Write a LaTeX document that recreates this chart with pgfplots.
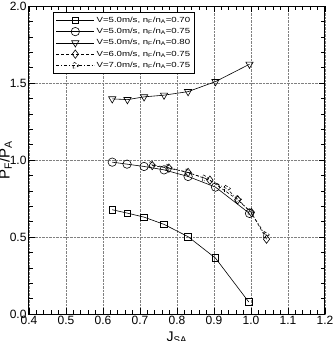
\documentclass[border=0pt]{standalone}
\usepackage{fontspec}
\setmainfont{Liberation Sans}
\newfontfamily\legfont[FakeStretch=1.3]{Liberation Sans}
\usepackage{pgfplots}
\pgfplotsset{compat=1.18}
\begin{document}
\begin{tikzpicture}[x=1pt,y=1pt]
\begin{axis}[
  at={(0,0)}, anchor=origin,
  scale only axis, width=296pt, height=308pt,
  xmin=0.4, xmax=1.2, ymin=0, ymax=2.0,
  xtick={0.4,0.5,...,1.2}, ytick={0,0.5,...,2.0},
  minor x tick num=4, minor y tick num=4,
  tick align=inside, major tick length=6pt, minor tick length=4pt,
  /pgf/number format/fixed, /pgf/number format/fixed zerofill, /pgf/number format/precision=1,
  /pgf/number format/assume math mode=true,
  ticklabel style={font=\fontsize{12}{12}\selectfont},
  xticklabel style={yshift=1pt},
  yticklabel style={xshift=1pt},
  grid=major, major grid style={gray, densely dotted, line width=0.6pt},
  axis line style={line width=1pt},
  every tick/.style={black, line width=0.6pt},
  xlabel={J\textsubscript{SA}}, xlabel style={font=\fontsize{14}{14}\selectfont, yshift=0pt},
  ylabel={P\textsubscript{F}/P\textsubscript{A}}, ylabel style={font=\fontsize{15}{15}\selectfont, yshift=-9pt},
  legend style={at={(0.082,0.98)}, anchor=north west, font=\legfont\fontsize{7.4}{9}\selectfont,
    draw=black, line width=0.5pt, row sep=0.4pt, inner sep=2.5pt},
  legend cell align=left,
  legend image code/.code={\draw[mark repeat=2,mark phase=2,#1] plot coordinates {(0pt,0pt)(19pt,0pt)(38pt,0pt)};},
  every axis plot/.append style={black, line width=0.6pt, mark options={solid, fill=white, line width=0.6pt}},
]
\addplot[mark=square, mark size=3.3pt] coordinates {
(0.625,0.677)(0.666,0.655)(0.711,0.629)(0.765,0.582)(0.830,0.502)(0.904,0.363)(0.994,0.078)};
\addlegendentry{V=5.0m/s, n\textsubscript{F}/n\textsubscript{A}=0.70}
\addplot[mark=o, mark size=4.2pt] coordinates {
(0.625,0.986)(0.665,0.973)(0.711,0.958)(0.765,0.936)(0.830,0.893)(0.904,0.824)(0.996,0.653)};
\addlegendentry{V=5.0m/s, n\textsubscript{F}/n\textsubscript{A}=0.75}
\addplot[mark=triangle, mark size=4.2pt, mark options={rotate=180}] coordinates {
(0.625,1.397)(0.666,1.392)(0.711,1.410)(0.765,1.421)(0.830,1.444)(0.904,1.509)(0.996,1.622)};
\addlegendentry{V=5.0m/s, n\textsubscript{F}/n\textsubscript{A}=0.80}
\addplot[densely dashed, mark=diamond, mark size=4.2pt] coordinates {
(0.733,0.964)(0.778,0.947)(0.830,0.919)(0.889,0.869)(0.964,0.742)(1.001,0.659)(1.042,0.486)};
\addlegendentry{V=6.0m/s, n\textsubscript{F}/n\textsubscript{A}=0.75}
\addplot[dash dot, mark=triangle, mark size=4.2pt, mark options={rotate=-90}] coordinates {
(0.731,0.969)(0.776,0.951)(0.828,0.921)(0.875,0.882)(0.934,0.815)(0.964,0.746)(0.998,0.664)(1.039,0.515)};
\addlegendentry{V=7.0m/s, n\textsubscript{F}/n\textsubscript{A}=0.75}
\end{axis}
\pgfresetboundingbox
\useasboundingbox (-29,-27) rectangle (306,314);
\end{tikzpicture}
\end{document}
